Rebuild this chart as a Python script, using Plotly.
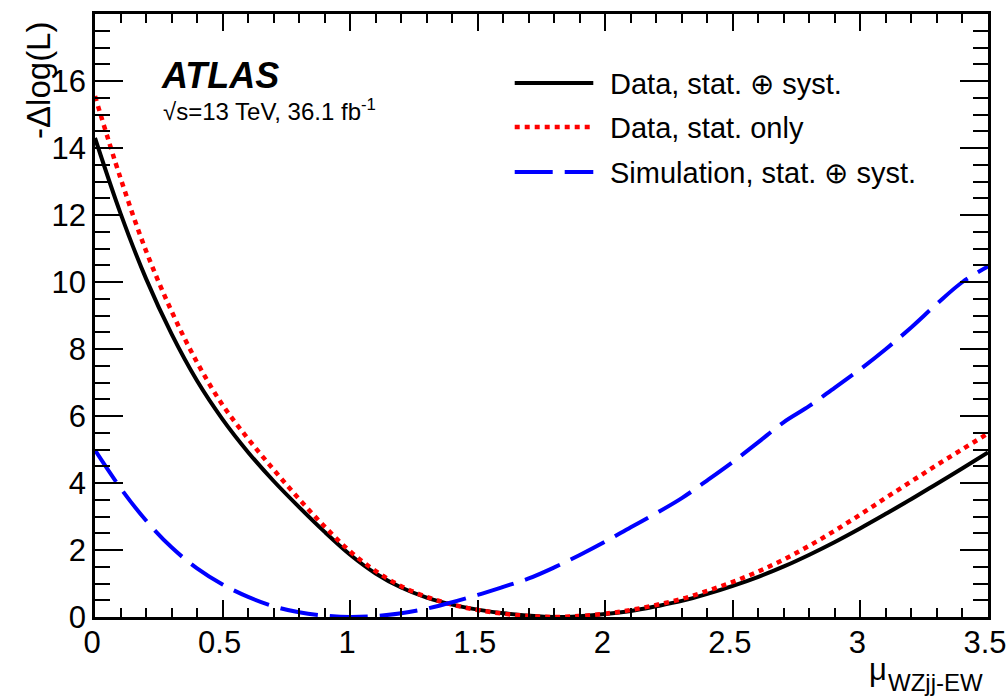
import plotly.graph_objects as go

# ---- data ----
mu = [0.0, 0.1, 0.2, 0.3, 0.4, 0.5, 0.6, 0.7, 0.8, 0.9,
      1.0, 1.1, 1.2, 1.3, 1.4, 1.5, 1.6, 1.7, 1.8, 1.9,
      2.0, 2.1, 2.2, 2.3, 2.4, 2.5, 2.6, 2.7, 2.8, 2.9,
      3.0, 3.1, 3.2, 3.3, 3.4, 3.5]

data_stat_syst = [14.3, 12.05, 10.1, 8.45, 7.05, 5.9, 4.92, 4.06, 3.28, 2.54,
                  1.86, 1.30, 0.88, 0.58, 0.37, 0.22, 0.11, 0.04, 0.0, 0.026,
                  0.087, 0.18, 0.32, 0.48, 0.69, 0.93, 1.2, 1.51, 1.86, 2.24,
                  2.65, 3.08, 3.52, 3.98, 4.44, 4.91]

data_stat_only = [15.55, 13.1, 10.93, 9.13, 7.6, 6.33, 5.32, 4.4, 3.52, 2.7,
                  1.96, 1.37, 0.92, 0.6, 0.37, 0.21, 0.1, 0.03, 0.0, 0.03,
                  0.1, 0.21, 0.36, 0.54, 0.78, 1.05, 1.36, 1.72, 2.13, 2.58,
                  3.06, 3.56, 4.05, 4.54, 5.01, 5.48]

sim_stat_syst = [4.98, 3.85, 2.88, 2.08, 1.45, 0.97, 0.6, 0.32, 0.14, 0.04,
                 0.0, 0.03, 0.11, 0.25, 0.44, 0.66, 0.9, 1.15, 1.48, 1.85,
                 2.25, 2.68, 3.1, 3.55, 4.08, 4.63, 5.22, 5.82, 6.3, 6.85,
                 7.4, 8.0, 8.65, 9.35, 10.0, 10.46]

series_names = ["Data, stat. \u2295 syst.", "Data, stat. only", "Simulation, stat. \u2295 syst."]
x_tick_vals = [0, 0.5, 1, 1.5, 2, 2.5, 3, 3.5]
x_tick_text = ["0", "0.5", "1", "1.5", "2", "2.5", "3", "3.5"]
y_tick_vals = [0, 2, 4, 6, 8, 10, 12, 14, 16]

FONT = "Liberation Sans, Arial, Helvetica, sans-serif"

styles = [
    dict(color="black", width=4, dash="solid"),
    dict(color="#ff0000", width=4.5, dash="5px,5px"),
    dict(color="#0000ff", width=4, dash="38px,12px"),
]

fig = go.Figure()
for ys, name, st in zip([data_stat_syst, data_stat_only, sim_stat_syst], series_names, styles):
    fig.add_trace(go.Scatter(x=mu, y=ys, mode="lines", name=name,
                             line=dict(color=st["color"], width=st["width"], dash=st["dash"],
                                       shape="spline", smoothing=1.0),
                             showlegend=False))

# manual legend (line samples + text)
leg_y = [0.8856, 0.8126, 0.738]
for yy, name, st in zip(leg_y, series_names, styles):
    fig.add_shape(type="line", xref="paper", yref="paper",
                  x0=0.470, x1=0.558, y0=yy, y1=yy,
                  line=dict(color=st["color"], width=st["width"], dash=st["dash"]))
    fig.add_annotation(text=name, xref="paper", yref="paper", x=0.575, y=yy - 0.002,
                       xanchor="left", yanchor="middle", showarrow=False,
                       font=dict(family=FONT, size=29, color="black"))

# ATLAS label
fig.add_annotation(text="<b><i>ATLAS</i></b>", xref="paper", yref="paper",
                   x=0.072, y=0.898, xanchor="left", yanchor="middle", showarrow=False,
                   font=dict(family=FONT, size=36, color="black"))
fig.add_annotation(text="\u221as=13 TeV, 36.1 fb<sup>-1</sup>", xref="paper", yref="paper",
                   x=0.074, y=0.840, xanchor="left", yanchor="middle", showarrow=False,
                   font=dict(family=FONT, size=24, color="black"))

# axis titles
fig.add_annotation(text="-\u0394log(L)", xref="paper", yref="paper",
                   x=-0.0627, y=0.889, xanchor="center", yanchor="middle", textangle=-90,
                   showarrow=False, font=dict(family=FONT, size=33, color="black"))
fig.add_annotation(text="\u03bc", xref="paper", yref="paper",
                   x=0.877, y=-0.055, xanchor="center", yanchor="top",
                   showarrow=False, font=dict(family=FONT, size=31, color="black"))
fig.add_annotation(text="WZjj-EW", xref="paper", yref="paper",
                   x=0.997, y=-0.0829, xanchor="right", yanchor="top",
                   showarrow=False, font=dict(family=FONT, size=24, color="black"))

fig.update_xaxes(range=[0, 3.5], tickvals=x_tick_vals, ticktext=x_tick_text,
                 ticks="inside", ticklen=17, tickwidth=1.5, tickcolor="black",
                 minor=dict(dtick=0.1, ticks="inside", ticklen=9, tickwidth=1.5, tickcolor="black"),
                 showline=True, linewidth=2.5, linecolor="black", mirror="allticks",
                 showgrid=False, zeroline=False, ticklabeloverflow="allow",
                 ticklabelstandoff=-4, ticklabelshift=-3, automargin=False,
                 tickfont=dict(family=FONT, size=31, color="black"))
fig.update_yaxes(range=[0, 18], tickvals=y_tick_vals,
                 ticks="inside", ticklen=28, tickwidth=1.5, tickcolor="black",
                 minor=dict(dtick=0.5, ticks="inside", ticklen=15, tickwidth=1.5, tickcolor="black"),
                 showline=True, linewidth=2.5, linecolor="black", mirror="allticks",
                 showgrid=False, zeroline=False, automargin=False,
                 tickfont=dict(family=FONT, size=31, color="black"))

fig.update_layout(width=1008, height=697,
                  margin=dict(l=95, r=20, t=14, b=80, autoexpand=False),
                  paper_bgcolor="white", plot_bgcolor="white",
                  font=dict(family=FONT, color="black"))

fig.write_html("out.html")
